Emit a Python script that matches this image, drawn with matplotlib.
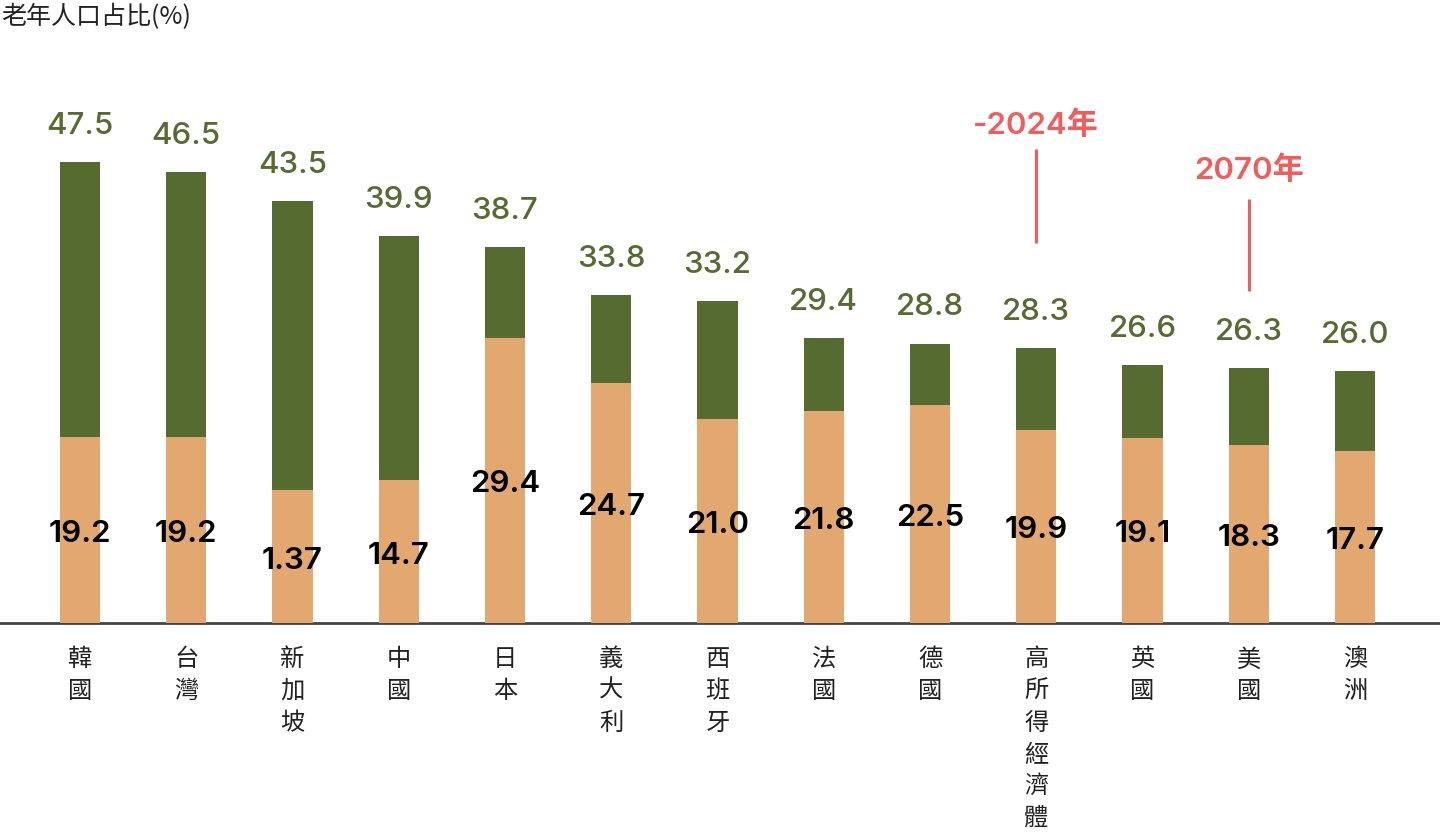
import matplotlib
matplotlib.use("Agg")
import matplotlib.pyplot as plt
import numpy as np

# 資料
paises = ["韓國", "台灣", "新加坡", "中國", "日本", "義大利", "西班牙",
          "法國", "德國", "高所得經濟體", "英國", "美國", "澳洲"]
valores_2070 = [47.5, 46.5, 43.5, 39.9, 38.7, 33.8, 33.2, 29.4, 28.8, 28.3, 26.6, 26.3, 26.0]
valores_2024 = [19.2, 19.2, 13.7, 14.7, 29.4, 24.7, 21.0, 21.8, 22.5, 19.9, 19.1, 18.3, 17.7]
# etiquetas tal como aparecen en el gráfico original (incluye "1.37")
etiquetas_2070 = ["47.5", "46.5", "43.5", "39.9", "38.7", "33.8", "33.2",
                  "29.4", "28.8", "28.3", "26.6", "26.3", "26.0"]
etiquetas_2024 = ["19.2", "19.2", "1.37", "14.7", "29.4", "24.7", "21.0",
                  "21.8", "22.5", "19.9", "19.1", "18.3", "17.7"]

VERDE = "#566B30"
NARANJA = "#E2A870"
ROJO = "#F45B5B"
FUENTE = ["Inter", "Noto Sans CJK TC", "DejaVu Sans"]
FUENTE_CJK = ["Noto Sans CJK TC", "DejaVu Sans"]

plt.rcParams["font.family"] = FUENTE

fig = plt.figure(figsize=(14.4, 8.37), dpi=100)
ax = fig.add_axes([0, 1 - 624 / 837, 1, 624 / 837])

x = np.arange(len(paises))
ancho = 0.377
ax.bar(x, valores_2070, width=ancho, color=VERDE, zorder=2)
ax.bar(x, valores_2024, width=ancho, color=NARANJA, zorder=3)

for xi, v, t in zip(x, valores_2070, etiquetas_2070):
    ax.annotate(t, (xi, v), xytext=(0, 21), textcoords="offset points",
                ha="center", va="baseline", fontsize=22.5, color=VERDE,
                fontweight="medium")

for xi, v, t in zip(x, valores_2024, etiquetas_2024):
    ax.text(xi, v / 2, t, ha="center", va="center_baseline", fontsize=22.5,
            color="black", fontweight="semibold", zorder=4)

# anotaciones en rojo
ax.text(9, 51.4, "-2024年", ha="center", va="center", fontsize=22.5,
        color=ROJO, fontweight="semibold")
ax.vlines(9, 39.2, 48.8, color=ROJO, lw=2.2)
ax.text(11, 46.8, "2070年", ha="center", va="center", fontsize=22.5,
        color=ROJO, fontweight="semibold")
ax.vlines(11, 34.2, 43.7, color=ROJO, lw=2.2)

ax.set_xlim(-80 / 106.25, (1440 - 80) / 106.25)
ax.set_ylim(0, 64.3)
ax.set_yticks([])
ax.set_xticks(x)
ax.set_xticklabels(["\n".join(p) for p in paises], fontsize=17.5,
                   family=FUENTE_CJK, color="#222222", linespacing=1.29, va="top")
ax.tick_params(axis="x", length=0, pad=16)
for lado in ["top", "left", "right"]:
    ax.spines[lado].set_visible(False)
ax.spines["bottom"].set_color("#444444")
ax.spines["bottom"].set_linewidth(2)

fig.text(0.001, 0.995, "老年人口占比(%)", ha="left", va="top", fontsize=18,
         family=FUENTE_CJK, color="#222222")

fig.savefig("out.png", dpi=100)
